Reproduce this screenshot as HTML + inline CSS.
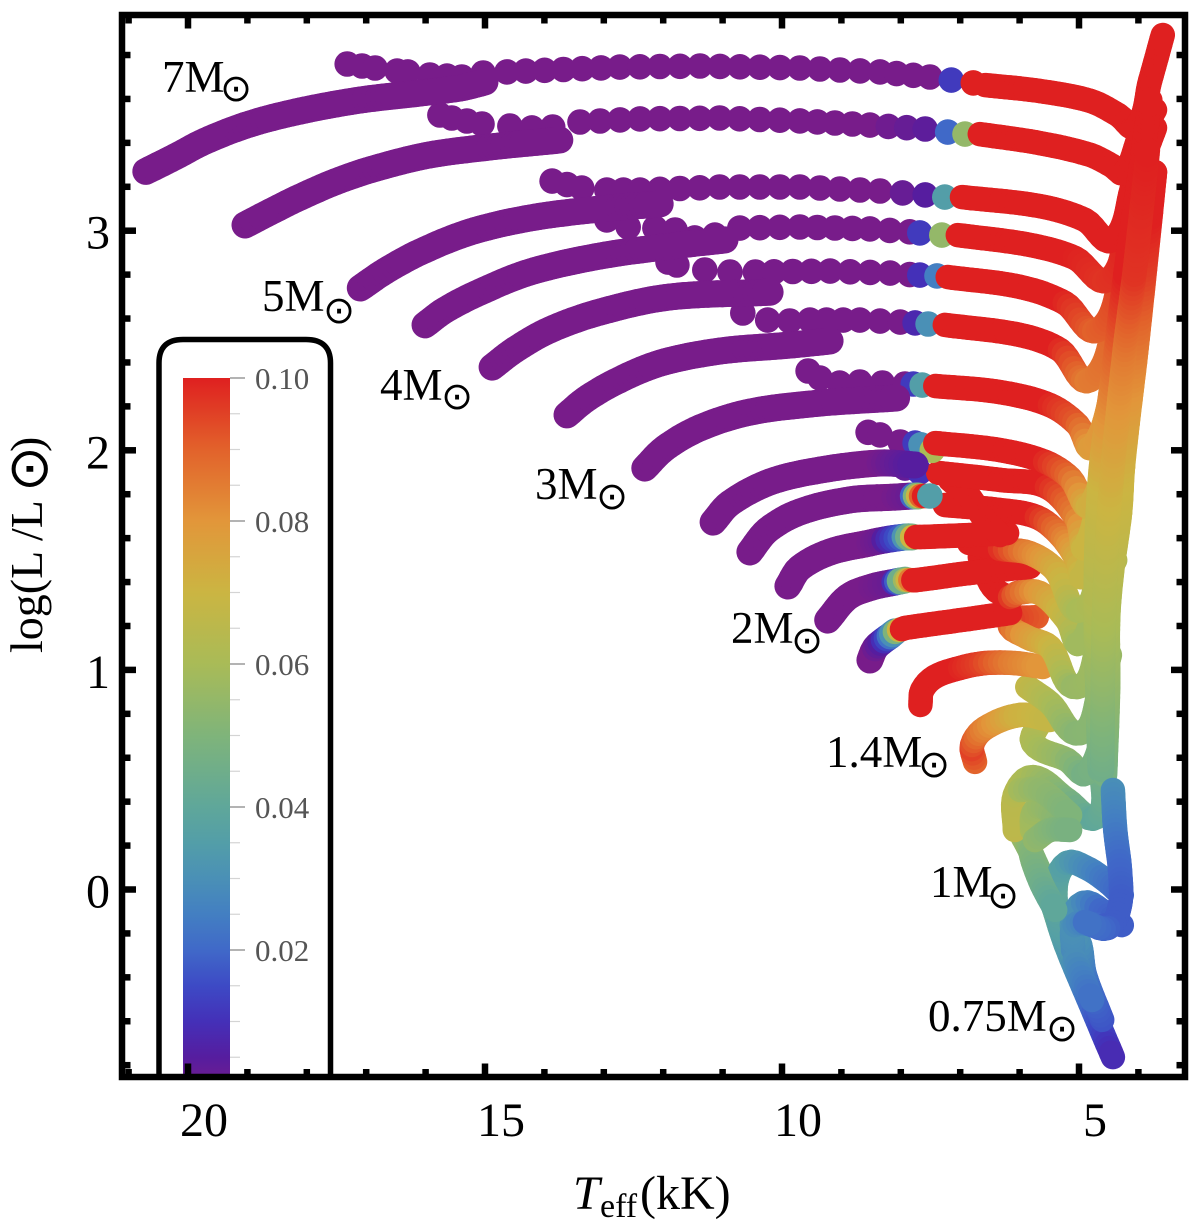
<!DOCTYPE html>
<html lang="en">
<head>
<meta charset="utf-8">
<title>HR diagram tracks</title>
<style>
html,body{margin:0;padding:0;background:#fff;}
svg{display:block;}
text{font-family:"Liberation Serif",serif;fill:#000;}
.sun{font-family:"DejaVu Sans",sans-serif;}
</style>
</head>
<body>
<svg id="chart" xmlns="http://www.w3.org/2000/svg" width="1200" height="1231" viewBox="0 0 1200 1231">
  <defs>
    <linearGradient id="bar-gradient" gradientUnits="userSpaceOnUse" x1="0" x2="0" y1="378" y2="1093"></linearGradient>
    <clipPath id="plot-clip"><rect x="122" y="15" width="1063" height="1062"></rect></clipPath>
  </defs>
  <rect x="0" y="0" width="1200" height="1231" fill="#fff"></rect>
  <g id="legend" clip-path="url(#plot-clip)">
    <path d="M159 1080 V363 Q159 339.500 183 339.500 H306 Q330.500 339.500 330.500 363 V1080" fill="#fff" stroke="#000" stroke-width="5.500"></path>
    <rect x="183" y="378" width="47" height="715" fill="url(#bar-gradient)"></rect>
    <g id="bar-ticks"></g>
  </g>
  <g id="tracks"></g>
  <rect x="122" y="15" width="1063" height="1062" fill="none" stroke="#000" stroke-width="6.500"></rect>
  <g id="axes"></g>

  <g font-size="45">
    <text x="162" y="92">7M</text>
    <text class="sun" x="236" y="101" font-size="38" text-anchor="middle">⊙</text>
    <text x="262" y="311">5M</text>
    <text class="sun" x="339" y="323" font-size="38" text-anchor="middle">⊙</text>
    <text x="380" y="400">4M</text>
    <text class="sun" x="457" y="409" font-size="38" text-anchor="middle">⊙</text>
    <text x="535" y="499">3M</text>
    <text class="sun" x="612" y="509" font-size="38" text-anchor="middle">⊙</text>
    <text x="731" y="643">2M</text>
    <text class="sun" x="807" y="653" font-size="38" text-anchor="middle">⊙</text>
    <text x="826" y="767">1.4M</text>
    <text class="sun" x="934" y="777" font-size="38" text-anchor="middle">⊙</text>
    <text x="930" y="897">1M</text>
    <text class="sun" x="1003" y="908" font-size="38" text-anchor="middle">⊙</text>
    <text x="928" y="1031">0.75M</text>
    <text class="sun" x="1062" y="1041" font-size="38" text-anchor="middle">⊙</text>
  </g>

  <g>
    <text x="573" y="1209" font-size="48" font-style="italic">T</text>
    <text x="600" y="1217" font-size="34">eff</text>
    <text x="640" y="1209" font-size="48">(kK)</text>
  </g>
  <g>
    <text transform="translate(42,653) rotate(-90)" font-size="46">log(L /L</text>
    <text class="sun" transform="translate(47,469) rotate(-90)" font-size="55" text-anchor="middle">⊙</text>
    <text transform="translate(42,452) rotate(-90)" font-size="46">)</text>
  </g>
</svg>

<script>
// ---- axis tick values ----
const xMajorTicks = [20, 15, 10, 5];
const xMinorTicks = [21, 19, 18, 17, 16, 14, 13, 12, 11, 9, 8, 7, 6, 4];
const yMajorTicks = [3, 2, 1, 0];
const yMinorTicks = [3.8, 3.6, 3.4, 3.2, 2.8, 2.6, 2.4, 2.2, 1.8, 1.6, 1.4, 1.2, 0.8, 0.6, 0.4, 0.2, -0.2, -0.4, -0.6, -0.8];
const barMajorTicks = [0.10, 0.08, 0.06, 0.04, 0.02];
const barMajorLabels = ["0.10", "0.08", "0.06", "0.04", "0.02"];
const barMinorTicks = [0.095, 0.09, 0.085, 0.075, 0.07, 0.065, 0.055, 0.05, 0.045, 0.035, 0.03, 0.025, 0.015, 0.01, 0.005];

// ---- colour scale ----
const colorLevels = [0, 0.005, 0.01, 0.015, 0.02, 0.025, 0.03, 0.035, 0.04, 0.05, 0.06, 0.07, 0.08, 0.09, 0.10];
const colorValues = ["#781c8a", "#561d9f", "#4430b8", "#3d4ac5", "#4069c8", "#437fc2", "#4a90b6", "#539ea8", "#5fa79a", "#7fb47a", "#a9bb57", "#cbb542", "#e2963a", "#e2622b", "#df2020"];

// ---- stellar tracks: temperature (kK), log luminosity, colour value ----
const m7LineT = [20.71,20.22,19.71,18.96,18.11,17.10,16.09,15.42,15.00, 6.58,5.66,4.81,4.34,4.04,3.80,3.59];
const m7LineL = [3.27,3.336,3.408,3.486,3.545,3.595,3.627,3.65,3.677, 3.663,3.636,3.591,3.527,3.472,3.686,3.891];
const m7LineZ = [0,0,0,0,0,0,0,0,0, 0.1,0.1,0.1,0.1,0.1,0.1,0.1];
const m7LineBreaks = [9];
const m7DotT = [17.32,17.07,16.85,16.48,16.30,15.93,15.64,15.39,15.03,14.63,12.73,11.38,9.70,8.35,7.51,7.15,6.78];
const m7DotL = [3.759,3.75,3.741,3.727,3.723,3.709,3.704,3.70,3.718,3.723,3.745,3.75,3.741,3.723,3.70,3.686,3.673];
const m7DotZ = [0,0,0,0,0,0,0,0,0,0,0,0,0,0,0,0.012,0.1];
const m7DotBreaks = [];

const m6LineT = [19.04,18.62,18.11,17.44,16.77,15.93,14.92,13.74, 6.67,5.66,4.81,4.44,4.24,3.97,3.72];
const m6LineL = [3.026,3.085,3.153,3.231,3.290,3.345,3.381,3.413, 3.440,3.399,3.345,3.295,3.263,3.436,3.550];
const m6LineZ = [0,0,0,0,0,0,0,0, 0.1,0.1,0.1,0.1,0.1,0.1,0.1];
const m6LineBreaks = [8];
const m6DotT = [15.76,15.56,15.05,14.58,14.21,13.86,13.40,12.39,11.05,9.70,8.52,7.59,7.21,6.92];
const m6DotL = [3.527,3.513,3.486,3.477,3.468,3.472,3.495,3.509,3.513,3.500,3.481,3.463,3.449,3.440];
const m6DotZ = [0,0,0,0,0,0,0,0,0,0,0,0.004,0.02,0.055];
const m6DotBreaks = [];

const m5LineT = [17.10,16.68,16.09,15.25,14.24,13.06,12.05, 6.97,5.66,4.90,4.44,4.09,3.72];
const m5LineL = [2.739,2.816,2.903,2.994,3.058,3.099,3.122, 3.153,3.112,3.049,2.958,3.208,3.468];
const m5LineZ = [0,0,0,0,0,0,0, 0.1,0.1,0.1,0.1,0.1,0.1];
const m5LineBreaks = [7];
const m5DotT = [13.87,13.37,12.95,12.39,11.05,9.70,8.35,7.59,7.26, 12.59,12.95];
const m5DotL = [3.226,3.194,3.185,3.185,3.199,3.199,3.181,3.163,3.153, 3.017,3.049];
const m5DotZ = [0,0,0,0,0,0,0,0.005,0.035, 0,0];
const m5DotBreaks = [9];

const m45LineT = [16.01,15.67,15.08,14.24,13.06,11.72,10.96, 7.04,5.82,5.07,4.51,4.14,3.72];
const m45LineL = [2.571,2.639,2.721,2.812,2.885,2.935,2.958, 2.980,2.935,2.876,2.776,3.049,3.267];
const m45LineZ = [0,0,0,0,0,0,0, 0.1,0.1,0.1,0.097,0.1,0.1];
const m45LineBreaks = [7];
const m45DotT = [12.14,11.80,11.47,11.13,10.71,9.70,8.52,7.85,7.68,7.31, 11.92,11.77];
const m45DotL = [3.012,3.003,2.967,2.980,3.012,3.017,3.008,2.995,2.99,2.98, 2.857,2.844];
const m45DotZ = [0,0,0,0,0,0,0,0,0.012,0.055, 0,0];
const m45DotBreaks = [10];

const m4LineT = [14.88,14.50,13.91,13.06,11.89,10.20, 7.21,5.99,5.24,4.68,4.23,3.79];
const m4LineL = [2.379,2.457,2.548,2.630,2.698,2.72, 2.789,2.744,2.671,2.548,2.844,3.081];
const m4LineZ = [0,0,0,0,0,0, 0.1,0.1,0.1,0.09,0.096,0.1];
const m4LineBreaks = [6];
const m4DotT = [11.30,10.876,10.45,9.19,8.18,7.85,7.68,7.39];
const m4DotL = [2.821,2.812,2.812,2.816,2.807,2.80,2.798,2.794];
const m4DotZ = [0,0,0,0,0,0,0.01,0.025];
const m4DotBreaks = [];

const m35LineT = [13.62,13.32,12.81,12.05,11.04,9.87,9.19, 7.26,5.99,5.32,4.81,4.31,3.89];
const m35LineL = [2.161,2.229,2.311,2.397,2.452,2.479,2.498, 2.571,2.525,2.457,2.320,2.639,2.821];
const m35LineZ = [0,0,0,0,0,0,0, 0.1,0.1,0.1,0.085,0.09,0.095];
const m35LineBreaks = [7];
const m35DotT = [10.66,10.24,9.87,9.53,8.69,8.01,7.76,7.54];
const m35DotL = [2.625,2.593,2.589,2.593,2.593,2.584,2.580,2.575];
const m35DotZ = [0,0,0,0,0,0,0.008,0.03];
const m35DotBreaks = [];

const m3LineT = [12.31,11.97,11.38,10.54,9.36,8.07, 7.42,6.33,5.49,5.02,4.78,4.39,4.04];
const m3LineL = [1.919,2.010,2.102,2.174,2.215,2.238, 2.293,2.265,2.206,2.115,2.015,2.320,2.593];
const m3LineZ = [0,0,0,0,0,0, 0.1,0.1,0.1,0.092,0.078,0.082,0.088];
const m3LineBreaks = [6];
const m3DotT = [9.56,9.36,9.03,8.69,7.93,7.79,7.64];
const m3DotL = [2.361,2.329,2.306,2.311,2.302,2.302,2.297];
const m3DotZ = [0,0,0,0,0,0.012,0.035];
const m3DotBreaks = [];

const m28LineT = [11.16,10.87,10.20,9.36,8.35,7.76, 7.42,6.33,5.57,5.15,4.81,4.48,4.04];
const m28LineL = [1.673,1.760,1.856,1.910,1.942,1.933, 2.033,2.001,1.947,1.874,1.751,2.138,2.443];
const m28LineZ = [0,0,0,0,0,0.005, 0.1,0.1,0.1,0.09,0.072,0.076,0.082];
const m28LineBreaks = [6];
const m28DotT = [8.55,8.35,8.01,7.76,7.66, 7.47, 7.51];
const m28DotL = [2.082,2.070,2.038,2.033,2.025, 2.0, 1.792];
const m28DotZ = [0,0,0,0.012,0.03, 0.06, 0.035];
const m28DotBreaks = [5, 6];

const m26LineT = [10.54,10.24,9.70,8.86,8.10,7.79,7.74,7.71,7.66,7.61,7.56, 7.37,6.33,5.54,5.03,4.90,4.56,4.18];
const m26LineL = [1.537,1.637,1.719,1.774,1.787,1.792,1.792,1.792,1.792,1.792,1.792, 1.897,1.865,1.833,1.683,1.560,1.910,2.124];
const m26LineZ = [0,0,0,0,0,0.002,0.02,0.05,0.07,0.09,0.1, 0.1,0.1,0.1,0.085,0.07,0.07,0.076];
const m26LineBreaks = [11];
const m26DotT = [7.93,7.68];
const m26DotL = [1.919,1.901];
const m26DotZ = [0.003,0.01];
const m26DotBreaks = [];

const m24LineT = [9.90,9.70,9.19,8.52,8.27,7.93,7.81,7.74,7.68,6.85,6.21, 7.26,6.33,5.71,5.32,5.03,4.93,4.60,4.26, 7.17,6.87,6.58,6.33];
const m24LineL = [1.382,1.464,1.537,1.578,1.592,1.605,1.605,1.605,1.605,1.614,1.623, 1.751,1.728,1.696,1.614,1.500,1.423,1.728,1.924, 1.865,1.796,1.683,1.614];
const m24LineZ = [0,0,0,0,0.002,0.018,0.045,0.07,0.1,0.1,0.1, 0.1,0.1,0.1,0.088,0.075,0.068,0.068,0.072, 0.1,0.1,0.1,0.1];
const m24LineBreaks = [11, 19];
const m24DotT = [];
const m24DotL = [];
const m24DotZ = [];
const m24DotBreaks = [];

const m22LineT = [9.23,8.89,8.49,8.10,8.01,7.93,7.84,7.74,6.85,5.83, 6.85,6.33,5.83,5.40,4.95,4.65,4.31];
const m22LineL = [1.227,1.332,1.377,1.400,1.405,1.409,1.409,1.409,1.441,1.469, 1.578,1.551,1.532,1.455,1.273,1.546,1.714];
const m22LineZ = [0,0,0,0.002,0.018,0.045,0.07,0.1,0.1,0.1, 0.1,0.1,0.085,0.075,0.06,0.064,0.068];
const m22LineBreaks = [10];
const m22DotT = [];
const m22DotL = [];
const m22DotZ = [];
const m22DotBreaks = [];

const m18LineT = [8.52,8.43,8.28,8.18,8.10,8.03,7.98,7.93,6.85,6.16, 6.67,6.45,6.16,6.04,5.66,5.20,4.98,4.68,4.39];
const m18LineL = [1.045,1.100,1.136,1.155,1.173,1.182,1.186,1.191,1.232,1.259, 1.514,1.377,1.332,1.350,1.350,1.227,1.122,1.364,1.500];
const m18LineZ = [0,0,0.005,0.014,0.03,0.05,0.07,0.1,0.1,0.1, 0.1,0.1,0.1,0.092,0.08,0.068,0.058,0.058,0.063];
const m18LineBreaks = [10];
const m18DotT = [];
const m18DotL = [];
const m18DotZ = [];
const m18DotBreaks = [];

const m16LineT = [7.67,7.64,7.43,7.0,6.58,6.08,5.61, 5.71,6.16,5.88,5.49,5.03,4.65,4.51];
const m16LineL = [0.840,0.908,0.968,1.009,1.031,1.031,1.013, 1.241,1.214,1.150,1.104,0.922,1.136,1.227];
const m16LineZ = [0.1,0.1,0.1,0.1,0.095,0.085,0.08, 0.09,0.095,0.08,0.072,0.056,0.058,0.06];
const m16LineBreaks = [7];
const m16DotT = [];
const m16DotL = [];
const m16DotZ = [];
const m16DotBreaks = [];

const m14LineT = [6.75,6.80,6.58,5.99,5.49, 5.87,5.49,4.98,4.65,4.48];
const m14LineL = [0.581,0.658,0.735,0.795,0.772, 0.922,0.849,0.712,0.908,1.068];
const m14LineZ = [0.088,0.095,0.085,0.072,0.068, 0.068,0.062,0.052,0.053,0.056];
const m14LineBreaks = [5];
const m14DotT = [];
const m14DotL = [];
const m14DotZ = [];
const m14DotBreaks = [];

const m12LineT = [5.66,5.775,5.20,4.87,4.56,4.51];
const m12LineL = [0.763,0.667,0.590,0.530,0.772,0.918];
const m12LineZ = [0.065,0.062,0.055,0.047,0.05,0.054];
const m12LineBreaks = [];
const m12DotT = [];
const m12DotL = [];
const m12DotZ = [];
const m12DotBreaks = [];

const m10LineT = [6.08,6.08,5.775,5.20,4.70,4.61,4.55, 5.79,5.77,5.61,5.27, 5.99,5.66,5.15, 5.74,5.49,5.15];
const m10LineL = [0.271,0.430,0.512,0.408,0.330,0.544,0.772, 0.271,0.348,0.376,0.285, 0.453,0.453,0.339, 0.225,0.271,0.271];
const m10LineZ = [0.066,0.065,0.06,0.05,0.04,0.046,0.05, 0.06,0.058,0.056,0.052, 0.06,0.055,0.05, 0.055,0.052,0.048];
const m10LineBreaks = [7, 11, 14];
const m10DotT = [];
const m10DotL = [];
const m10DotZ = [];
const m10DotBreaks = [];

const m075LineT = [6.01,5.79,5.50,5.22,4.75,4.43, 5.07,5.32,5.39,5.20,4.90,4.56,4.28, 4.61,4.90,4.98,5.12,4.93,4.56,4.28, 5.775,5.83,5.66,5.40, 5.10,5.07,4.73,4.48, 5.07,4.78];
const m075LineL = [0.271,0.157,-0.025,-0.253,-0.558,-0.763, -0.321,-0.162,0.020,0.121,0.102,0.043,-0.025, -0.594,-0.389,-0.253,-0.162,-0.061,-0.107,-0.162, 0.339,0.194,0.043,-0.093, -0.276,-0.162,-0.162,-0.162, -0.321,-0.503];
const m075LineZ = [0.06,0.052,0.046,0.036,0.02,0.009, 0.03,0.036,0.04,0.036,0.03,0.024,0.02, 0.016,0.022,0.028,0.032,0.03,0.02,0.018, 0.058,0.053,0.047,0.04, 0.028,0.03,0.024,0.018, 0.03,0.022];
const m075LineBreaks = [6, 13, 20, 24, 28];
const m075DotT = [];
const m075DotL = [];
const m075DotZ = [];
const m075DotBreaks = [];

// Shared giant-branch stem (left edge, right edge, centre) and the blue low-mass column.
const branchLineT = [4.65,4.68,4.72,4.65,4.44,4.21,3.99,3.80, 4.56,4.51,4.51,4.44,4.31,4.26,4.18,4.04,3.89,3.79,3.72, 4.61,4.58,4.48,4.23,4.06,3.84, 4.43,4.39,4.31,4.31,4.51,4.90];
const branchLineL = [0.544,0.817,1.318,1.865,2.320,2.821,3.231,3.595, 0.522,0.918,1.227,1.455,1.714,1.924,2.124,2.443,2.821,3.081,3.267, 0.544,1.227,1.774,2.457,2.821,3.367, 0.453,0.271,0.089,-0.071,-0.175,-0.148];
const branchLineZ = [0.045,0.052,0.062,0.07,0.085,0.1,0.1,0.1, 0.047,0.054,0.06,0.064,0.068,0.071,0.076,0.084,0.095,0.1,0.1, 0.045,0.06,0.07,0.085,0.097,0.1, 0.03,0.025,0.02,0.018,0.018,0.022];
const branchLineBreaks = [8, 19, 25];
const branchDotT = [];
const branchDotL = [];
const branchDotZ = [];
const branchDotBreaks = [];

// Draw order: lowest mass first, so the more massive tracks sit on top.
const trackNames = ["0.75","1.0","1.2","1.4","1.6","1.8","2.2","2.4","2.6","2.8","3","3.5","4","4.5","5","6","7","branch"];
const trackLineT = [m075LineT,m10LineT,m12LineT,m14LineT,m16LineT,m18LineT,m22LineT,m24LineT,m26LineT,m28LineT,m3LineT,m35LineT,m4LineT,m45LineT,m5LineT,m6LineT,m7LineT,branchLineT];
const trackLineL = [m075LineL,m10LineL,m12LineL,m14LineL,m16LineL,m18LineL,m22LineL,m24LineL,m26LineL,m28LineL,m3LineL,m35LineL,m4LineL,m45LineL,m5LineL,m6LineL,m7LineL,branchLineL];
const trackLineZ = [m075LineZ,m10LineZ,m12LineZ,m14LineZ,m16LineZ,m18LineZ,m22LineZ,m24LineZ,m26LineZ,m28LineZ,m3LineZ,m35LineZ,m4LineZ,m45LineZ,m5LineZ,m6LineZ,m7LineZ,branchLineZ];
const trackLineBreaks = [m075LineBreaks,m10LineBreaks,m12LineBreaks,m14LineBreaks,m16LineBreaks,m18LineBreaks,m22LineBreaks,m24LineBreaks,m26LineBreaks,m28LineBreaks,m3LineBreaks,m35LineBreaks,m4LineBreaks,m45LineBreaks,m5LineBreaks,m6LineBreaks,m7LineBreaks,branchLineBreaks];
const trackDotT = [m075DotT,m10DotT,m12DotT,m14DotT,m16DotT,m18DotT,m22DotT,m24DotT,m26DotT,m28DotT,m3DotT,m35DotT,m4DotT,m45DotT,m5DotT,m6DotT,m7DotT,branchDotT];
const trackDotL = [m075DotL,m10DotL,m12DotL,m14DotL,m16DotL,m18DotL,m22DotL,m24DotL,m26DotL,m28DotL,m3DotL,m35DotL,m4DotL,m45DotL,m5DotL,m6DotL,m7DotL,branchDotL];
const trackDotZ = [m075DotZ,m10DotZ,m12DotZ,m14DotZ,m16DotZ,m18DotZ,m22DotZ,m24DotZ,m26DotZ,m28DotZ,m3DotZ,m35DotZ,m4DotZ,m45DotZ,m5DotZ,m6DotZ,m7DotZ,branchDotZ];
const trackDotBreaks = [m075DotBreaks,m10DotBreaks,m12DotBreaks,m14DotBreaks,m16DotBreaks,m18DotBreaks,m22DotBreaks,m24DotBreaks,m26DotBreaks,m28DotBreaks,m3DotBreaks,m35DotBreaks,m4DotBreaks,m45DotBreaks,m5DotBreaks,m6DotBreaks,m7DotBreaks,branchDotBreaks];

// ---- axis functions ----
function xScale(t) { return 188 + (20 - t) * 59.4; }
function yScale(l) { return 230.7 + (3 - l) * 219.6; }
function zScale(z) { return 378 + (0.10 - z) * 7150; }

const SVG_NS = "http://www.w3.org/2000/svg";
function make(tag, parent) {
  const el = document.createElementNS(SVG_NS, tag);
  parent.appendChild(el);
  return el;
}
function hexToRgb(h) {
  return [parseInt(h.slice(1, 3), 16), parseInt(h.slice(3, 5), 16), parseInt(h.slice(5, 7), 16)];
}
function colorOf(z) {
  if (z <= colorLevels[0]) return colorValues[0];
  for (let i = 1; i < colorLevels.length; i++) {
    if (z <= colorLevels[i]) {
      const f = (z - colorLevels[i - 1]) / (colorLevels[i] - colorLevels[i - 1]);
      const a = hexToRgb(colorValues[i - 1]);
      const b = hexToRgb(colorValues[i]);
      return "rgb(" + Math.round(a[0] + (b[0] - a[0]) * f) + "," + Math.round(a[1] + (b[1] - a[1]) * f) + "," + Math.round(a[2] + (b[2] - a[2]) * f) + ")";
    }
  }
  return colorValues[colorValues.length - 1];
}

// ---- colour bar ----
const gradient = document.getElementById("bar-gradient");
for (let i = colorLevels.length - 1; i >= 0; i--) {
  const stop = make("stop", gradient);
  stop.setAttribute("offset", (1 - colorLevels[i] / 0.10).toFixed(4));
  stop.setAttribute("stop-color", colorValues[i]);
}
const barTickGroup = document.getElementById("bar-ticks");
barMinorTicks.forEach(function (z) {
  const tick = make("line", barTickGroup);
  tick.setAttribute("x1", 230);
  tick.setAttribute("x2", 240);
  tick.setAttribute("y1", zScale(z));
  tick.setAttribute("y2", zScale(z));
  tick.setAttribute("stroke", "#d4d4d4");
  tick.setAttribute("stroke-width", "1.2");
  
  
});
barMajorTicks.forEach(function (z, i) {
  const tick = make("line", barTickGroup);
  tick.setAttribute("x1", 230);
  tick.setAttribute("x2", 245);
  tick.setAttribute("y1", zScale(z));
  tick.setAttribute("y2", zScale(z));
  tick.setAttribute("stroke", "#8a8a8a");
  tick.setAttribute("stroke-width", "1.3");
  
  
  const label = make("text", barTickGroup);
  label.setAttribute("x", 255);
  label.setAttribute("y", zScale(z) + 11);
  label.setAttribute("font-size", "31");
  label.setAttribute("style", "fill:#555");
  label.textContent = barMajorLabels[i];
  
  
});

// ---- frame ticks and labels ----
const axesGroup = document.getElementById("axes");
function frameTick(x1, y1, x2, y2) {
  const tick = make("line", axesGroup);
  tick.setAttribute("x1", x1);
  tick.setAttribute("y1", y1);
  tick.setAttribute("x2", x2);
  tick.setAttribute("y2", y2);
  tick.setAttribute("stroke", "#000");
  tick.setAttribute("stroke-width", "6.5");
  
  
}
xMinorTicks.forEach(function (t) {
  frameTick(xScale(t), 1077, xScale(t), 1069);
  frameTick(xScale(t), 15, xScale(t), 23.5);
});
xMajorTicks.forEach(function (t) {
  frameTick(xScale(t), 1077, xScale(t), 1063.5);
  frameTick(xScale(t), 15, xScale(t), 28.5);
  const label = make("text", axesGroup);
  label.setAttribute("x", xScale(t) + 16);
  label.setAttribute("y", 1136);
  label.setAttribute("font-size", "48");
  label.setAttribute("text-anchor", "middle");
  label.textContent = String(t);
  
  
});
yMinorTicks.forEach(function (l) {
  frameTick(122, yScale(l), 130.5, yScale(l));
  frameTick(1185, yScale(l), 1176.5, yScale(l));
});
yMajorTicks.forEach(function (l) {
  frameTick(122, yScale(l), 136, yScale(l));
  frameTick(1185, yScale(l), 1171, yScale(l));
  const label = make("text", axesGroup);
  label.setAttribute("x", 110);
  label.setAttribute("y", yScale(l) + 18);
  label.setAttribute("font-size", "48");
  label.setAttribute("text-anchor", "end");
  label.textContent = String(l);
  
  
});

// ---- tracks ----
const trackRoot = document.getElementById("tracks");
const ARC_STROKE = 27;
const BAND_STROKE = 24.5;
const DOT_RADIUS = 12.8;

function strokeRanges(count, breaks) {
  const starts = [0].concat(breaks);
  return starts.map(function (s, i) {
    return [s, i + 1 < starts.length ? starts[i + 1] : count];
  });
}
function drawDots(group, T, L, Z, breaks) {
  strokeRanges(T.length, breaks).forEach(function (range) {
    for (let i = range[0]; i < range[1]; i++) {
      const x = xScale(T[i]);
      const y = yScale(L[i]);
      let steps = 1;
      if (i + 1 < range[1]) {
        const gap = Math.hypot(xScale(T[i + 1]) - x, yScale(L[i + 1]) - y);
        if (gap > 30) steps = Math.round(gap / 18.5);
      }
      for (let s = 0; s < steps; s++) {
        const f = s / steps;
        const nx = i + 1 < range[1] ? xScale(T[i + 1]) : x;
        const ny = i + 1 < range[1] ? yScale(L[i + 1]) : y;
        const nz = i + 1 < range[1] ? Z[i + 1] : Z[i];
        const dot = make("circle", group);
        dot.setAttribute("cx", (x + (nx - x) * f).toFixed(1));
        dot.setAttribute("cy", (y + (ny - y) * f).toFixed(1));
        dot.setAttribute("r", DOT_RADIUS);
        dot.setAttribute("fill", colorOf(Z[i] + (nz - Z[i]) * f));
        
        
      }
    }
  });
}
function unit(dx, dy) {
  const n = Math.hypot(dx, dy) || 1;
  return [dx / n, dy / n];
}
function drawLines(group, T, L, Z, breaks) {
  strokeRanges(T.length, breaks).forEach(function (range) {
    const xs = [];
    const ys = [];
    const zs = [];
    for (let i = range[0]; i < range[1]; i++) {
      xs.push(xScale(T[i]));
      ys.push(yScale(L[i]));
      zs.push(Z[i]);
    }
    const last = xs.length - 1;
    for (let i = 0; i < last; i++) {
      const prev = Math.max(i - 1, 0);
      const next = Math.min(i + 2, last);
      const d = Math.hypot(xs[i + 1] - xs[i], ys[i + 1] - ys[i]);
      const d0 = unit(xs[i + 1] - xs[prev], ys[i + 1] - ys[prev]);
      const d1 = unit(xs[next] - xs[i], ys[next] - ys[i]);
      const pieces = Math.max(1, Math.ceil(d / 5));
      let px = xs[i];
      let py = ys[i];
      for (let p = 1; p <= pieces; p++) {
        const t = p / pieces;
        const a = 2 * t * t * t - 3 * t * t + 1;
        const b = t * t * t - 2 * t * t + t;
        const c = -2 * t * t * t + 3 * t * t;
        const e = t * t * t - t * t;
        const qx = a * xs[i] + b * d * d0[0] + c * xs[i + 1] + e * d * d1[0];
        const qy = a * ys[i] + b * d * d0[1] + c * ys[i + 1] + e * d * d1[1];
        const seg = make("line", group);
        seg.setAttribute("x1", px.toFixed(1));
        seg.setAttribute("y1", py.toFixed(1));
        seg.setAttribute("x2", qx.toFixed(1));
        seg.setAttribute("y2", qy.toFixed(1));
        seg.setAttribute("stroke", colorOf(zs[i] + (zs[i + 1] - zs[i]) * t));
        seg.setAttribute("stroke-width", zs[0] === 0 && zs[i] < 0.03 ? ARC_STROKE : BAND_STROKE);
        seg.setAttribute("stroke-linecap", "round");
        
        
        px = qx;
        py = qy;
      }
    }
  });
}
trackNames.forEach(function (name, i) {
  const group = make("g", trackRoot);
  
  
  drawDots(group, trackDotT[i], trackDotL[i], trackDotZ[i], trackDotBreaks[i]);
  drawLines(group, trackLineT[i], trackLineL[i], trackLineZ[i], trackLineBreaks[i]);
});
</script>
</body>
</html>
